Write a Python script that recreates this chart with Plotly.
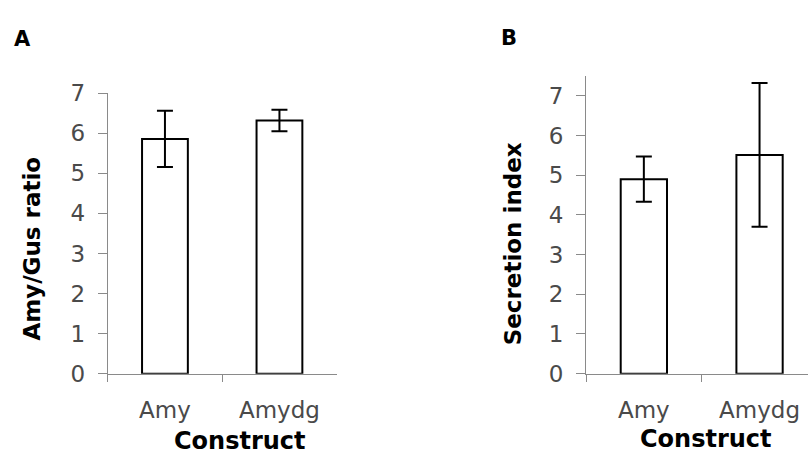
import plotly.graph_objects as go

categories = ["Amy", "Amydg"]
ratio_values = [5.86, 6.32]
ratio_errors = [0.70, 0.27]
secretion_values = [4.90, 5.51]
secretion_errors = [0.57, 1.81]
ratio_ticks = [0, 1, 2, 3, 4, 5, 6, 7]
secretion_ticks = [0, 1, 2, 3, 4, 5, 6, 7]

W, H = 808, 465
FONT = "DejaVu Sans"
AXC = "#8a8a8a"
TXC = "#4a4a4a"

fig = go.Figure()

def add_bar(vals, errs, xa, ya):
    fig.add_trace(go.Bar(
        x=categories, y=vals, xaxis=xa, yaxis=ya, width=0.4,
        marker=dict(color="white", line=dict(color="black", width=2)),
        error_y=dict(type="data", array=errs, visible=True, color="black",
                     thickness=2, width=8),
        showlegend=False,
    ))

add_bar(ratio_values, ratio_errors, "x", "y")
add_bar(secretion_values, secretion_errors, "x2", "y2")

def px_x(p):
    return p / W

def px_y(p):
    return 1 - p / H

xcommon = dict(type="category", showgrid=False, zeroline=False, showline=True,
               linecolor=AXC, linewidth=1, ticks="outside", tickson="boundaries",
               ticklen=7, tickcolor=AXC, tickwidth=1,
               tickfont=dict(family=FONT, size=23, color=TXC),
               ticklabelstandoff=16)
ycommon = dict(showgrid=False, zeroline=False, showline=True, linecolor=AXC,
               linewidth=1, ticks="outside", ticklen=9, tickcolor=AXC, tickwidth=1,
               tickfont=dict(family=FONT, size=23, color=TXC),
               ticklabelstandoff=8)

fig.update_layout(
    width=W, height=H, autosize=False, margin=dict(l=0, r=0, t=0, b=0, pad=0),
    plot_bgcolor="white", paper_bgcolor="white",
    xaxis=dict(domain=[px_x(107.7), px_x(336.7)], range=[-0.5, 1.5],
               anchor="y", **xcommon),
    yaxis=dict(domain=[px_y(382), px_y(85)], range=[0, 7], tickvals=ratio_ticks,
               anchor="x", **ycommon),
    xaxis2=dict(domain=[px_x(586), 1.0], range=[-0.5, -0.5 + (808 - 586) / 115.7],
                anchor="y2", **xcommon),
    yaxis2=dict(domain=[px_y(382), px_y(66.7)], range=[0, 7.5],
                tickvals=secretion_ticks, anchor="x2", **ycommon),
)

def ann(text, x, y, size, angle=0):
    fig.add_annotation(text=text, x=px_x(x), y=px_y(y), xref="paper", yref="paper",
                       showarrow=False, textangle=angle, xanchor="center",
                       yanchor="middle",
                       font=dict(family=FONT, size=size, color="black"))

ann("<b>A</b>", 22, 28, 21)
ann("<b>B</b>", 509, 27, 21)
ann("<b>Amy/Gus ratio</b>", 32, 249.5, 23, -90)
ann("<b>Secretion index</b>", 513, 245, 23, -90)
ann("<b>Construct</b>", 240, 453, 24)
ann("<b>Construct</b>", 706, 451, 24)

fig.write_html("out.html")
